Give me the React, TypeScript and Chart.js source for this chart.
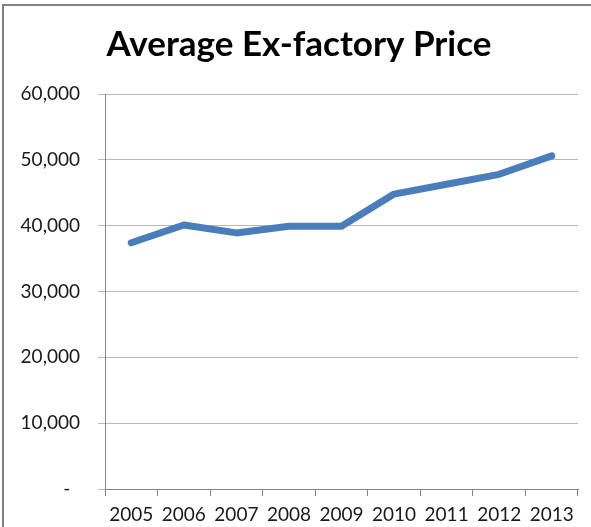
import React, { useEffect, useRef } from "react";
import { Chart, registerables } from "chart.js";

Chart.register(...registerables);

const years = ["2005", "2006", "2007", "2008", "2009", "2010", "2011", "2012", "2013"];
const avgPrice = [37400, 40100, 38900, 39900, 39900, 44800, 46300, 47800, 50600];
const chartTitle = "Average Ex-factory Price";

export default function App() {
  const ref = useRef<HTMLCanvasElement | null>(null);

  useEffect(() => {
    if (!ref.current) return;
    const chart = new Chart(ref.current, {
      type: "line",
      data: {
        labels: years,
        datasets: [
          {
            data: avgPrice,
            borderColor: "#4A7EBB",
            backgroundColor: "#4A7EBB",
            borderWidth: 7,
            borderCapStyle: "round",
            borderJoinStyle: "round",
            pointRadius: 0,
            tension: 0,
          },
        ],
      },
      options: {
        responsive: false,
        animation: false,
        layout: { padding: { left: 20, right: 13, top: 0, bottom: 0 } },
        plugins: {
          legend: { display: false },
          tooltip: { enabled: false },
          title: {
            display: true,
            text: chartTitle,
            color: "#000",
            font: { family: "Lato", size: 35, weight: "bold", lineHeight: 1.2 },
            padding: { top: 24, bottom: 28 },
          },
        },
        scales: {
          x: {
            offset: true,
            grid: {
              offset: true,
              drawOnChartArea: false,
              drawTicks: true,
              tickLength: 7,
              color: "#868686",
            },
            border: { display: true, color: "#868686", width: 1 },
            ticks: {
              color: "#1a1a1a",
              font: { family: "Lato", size: 19 },
              padding: 7,
              maxRotation: 0,
              autoSkip: false,
            },
            afterFit: (s: any) => {
              s.height = 38;
            },
          },
          y: {
            min: 0,
            max: 60000,
            grid: {
              color: "#b9b9b9",
              tickLength: 7,
              drawTicks: true,
            },
            border: { display: true, color: "#868686", width: 1 },
            ticks: {
              stepSize: 10000,
              color: "#1a1a1a",
              font: { family: "Lato", size: 19 },
              padding: 18,
              callback: (v: any) => (Number(v) === 0 ? "-  " : Number(v).toLocaleString("en-US")),
            },
            afterFit: (s: any) => {
              s.width = 85;
            },
          },
        },
      },
    });
    return () => chart.destroy();
  }, []);

  return (
    <div
      style={{
        position: "fixed",
        left: 0,
        top: 0,
        width: 591,
        height: 527,
        overflow: "hidden",
        background: "#fff",
      }}
    >
      <canvas
        ref={ref}
        width={591}
        height={527}
        style={{ position: "absolute", left: 0, top: 0, width: 591, height: 527 }}
      />
      <div
        style={{
          position: "absolute",
          left: 2,
          top: 4,
          width: 700,
          height: 700,
          borderTop: "2px solid #808080",
          borderLeft: "2px solid #808080",
          pointerEvents: "none",
        }}
      />
    </div>
  );
}
